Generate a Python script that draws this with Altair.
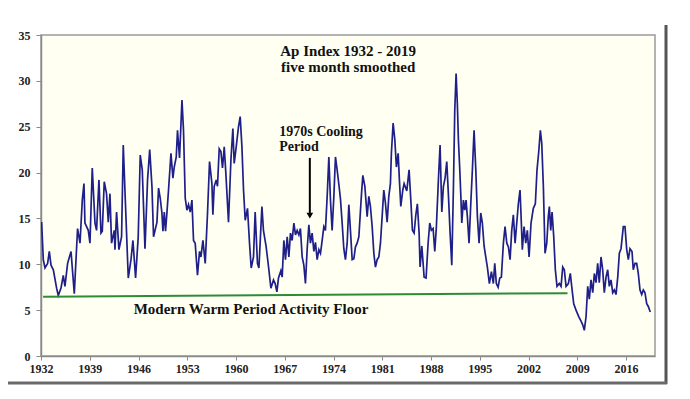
import altair as alt
import pandas as pd

years = [1932.09,1932.33,1932.57,1932.95,1933.19,1933.44,1933.77,1934.24,1934.48,1934.87,1935.20,1935.44,1935.82,1936.31,1936.78,1937.25,1937.60,1937.93,1938.17,1938.31,1938.79,1939.03,1939.36,1939.75,1939.98,1940.32,1940.61,1940.80,1941.08,1941.41,1941.66,1941.90,1942.13,1942.52,1942.62,1942.85,1943.19,1943.57,1943.81,1944.14,1944.53,1944.92,1945.20,1945.58,1945.96,1946.25,1946.54,1946.93,1947.30,1947.61,1947.93,1948.16,1948.65,1948.88,1949.12,1949.36,1949.51,1949.70,1949.88,1950.08,1950.31,1950.66,1950.94,1951.13,1951.42,1951.60,1951.89,1952.24,1952.46,1952.71,1952.95,1953.18,1953.43,1953.67,1953.90,1954.14,1954.47,1954.76,1954.96,1955.25,1955.58,1955.91,1956.20,1956.54,1956.68,1956.87,1957.16,1957.34,1957.59,1957.83,1958.06,1958.31,1958.55,1958.92,1959.27,1959.55,1959.74,1960.03,1960.36,1960.60,1960.85,1961.08,1961.32,1961.65,1961.94,1962.18,1962.51,1962.75,1963.08,1963.29,1963.72,1963.94,1964.33,1964.66,1965.01,1965.38,1965.62,1965.87,1966.10,1966.44,1966.63,1966.87,1967.10,1967.35,1967.59,1967.82,1968.06,1968.31,1968.54,1968.78,1969.03,1969.25,1969.50,1969.74,1969.97,1970.22,1970.46,1970.69,1970.93,1971.18,1971.41,1971.65,1971.90,1972.13,1972.37,1972.61,1972.84,1973.09,1973.33,1973.56,1973.80,1974.05,1974.28,1974.52,1974.77,1975.00,1975.24,1975.48,1975.71,1975.96,1976.20,1976.43,1976.68,1976.92,1977.15,1977.39,1977.64,1978.01,1978.21,1978.50,1978.83,1979.07,1979.30,1979.55,1979.79,1980.02,1980.26,1980.51,1980.74,1980.98,1981.22,1981.45,1981.70,1981.94,1982.17,1982.31,1982.56,1982.80,1983.03,1983.28,1983.46,1983.66,1983.95,1984.14,1984.52,1984.85,1985.10,1985.33,1985.57,1985.82,1986.04,1986.29,1986.43,1986.68,1987.01,1987.29,1987.58,1987.82,1988.05,1988.30,1988.54,1988.77,1989.06,1989.30,1989.55,1989.78,1990.02,1990.26,1990.49,1990.74,1990.98,1991.21,1991.41,1991.60,1991.78,1991.93,1992.13,1992.27,1992.42,1992.65,1992.85,1993.03,1993.22,1993.46,1993.71,1993.94,1994.18,1994.43,1994.66,1994.90,1995.14,1995.37,1995.62,1995.86,1996.09,1996.38,1996.67,1996.95,1997.15,1997.38,1997.63,1997.87,1998.10,1998.39,1998.63,1998.88,1999.11,1999.35,1999.59,1999.82,2000.07,2000.31,2000.54,2000.78,2000.97,2001.11,2001.36,2001.60,2001.83,2002.08,2002.36,2002.69,2002.98,2003.22,2003.47,2003.70,2003.90,2004.13,2004.37,2004.62,2004.84,2004.99,2005.19,2005.38,2005.62,2005.85,2006.09,2006.42,2006.67,2006.91,2007.14,2007.39,2007.72,2008.00,2008.20,2008.49,2008.82,2009.21,2009.54,2009.78,2010.01,2010.26,2010.50,2010.73,2010.97,2011.22,2011.45,2011.69,2011.93,2012.16,2012.41,2012.65,2012.88,2013.13,2013.37,2013.60,2013.84,2014.09,2014.32,2014.56,2014.81,2015.04,2015.28,2015.61,2015.85,2016.10,2016.33,2016.57,2016.86,2017.04,2017.29,2017.53,2017.76,2018.01,2018.25,2018.48,2018.72,2018.97,2019.20,2019.48]

ap_index = [14.6,10.5,9.6,10.1,11.4,9.9,9.4,7.4,6.6,7.4,8.8,7.6,10.1,11.4,6.8,13.9,12.3,17.0,18.8,14.5,13.7,12.3,20.5,14.5,13.7,19.2,13.4,13.6,19.0,17.7,14.6,17.7,12.3,13.7,11.6,15.7,11.6,13.0,23.0,16.3,8.5,10.5,12.6,8.5,13.0,21.9,20.3,11.7,19.2,22.5,18.5,13.0,14.6,18.3,17.2,15.6,13.6,15.7,13.6,15.6,18.1,22.1,19.4,20.6,21.7,24.6,21.6,27.9,24.6,17.2,15.9,16.5,15.7,17.0,12.6,12.3,8.8,11.4,10.8,12.6,10.1,15.6,21.2,18.8,15.4,18.5,19.2,18.5,22.6,22.3,20.5,22.8,19.8,14.6,21.4,24.8,21.0,22.8,25.0,26.1,22.8,18.1,14.8,16.1,12.3,9.6,10.8,15.7,10.1,9.6,16.3,13.7,11.9,9.8,7.4,8.3,7.9,7.0,8.5,9.3,8.6,12.6,10.5,13.0,10.8,13.4,12.6,14.5,13.2,13.7,13.2,13.9,10.8,9.9,7.9,11.7,14.3,12.3,13.4,11.4,12.4,10.5,11.6,11.2,12.6,14.1,13.7,17.4,21.7,17.0,13.7,17.4,21.7,20.3,18.7,17.1,14.5,11.7,10.5,12.3,16.5,13.7,10.5,10.6,11.9,12.3,13.0,17.6,19.7,18.5,15.2,17.4,16.3,14.1,11.2,9.7,10.5,10.8,12.3,15.2,18.1,16.7,14.6,17.4,18.8,22.1,25.4,23.6,20.6,22.1,19.2,16.3,18.1,18.8,18.0,20.3,17.0,13.7,13.4,15.4,16.6,13.4,9.7,12.0,8.6,8.5,12.3,14.5,13.7,13.9,11.4,14.1,19.2,23.0,15.7,18.5,19.4,21.2,17.7,13.4,9.9,18.1,26.8,30.8,27.5,23.6,20.3,17.7,14.5,17.0,15.9,17.0,15.2,12.3,16.6,20.3,24.6,20.3,15.2,12.3,15.6,14.5,12.0,10.8,9.7,7.9,9.2,7.9,10.1,7.9,7.5,8.5,8.6,12.3,14.1,12.3,11.9,10.5,13.7,15.4,12.3,14.5,16.6,18.1,14.5,11.6,14.1,12.3,13.7,10.8,14.5,16.1,16.6,20.3,22.3,24.6,23.2,18.5,11.2,12.3,15.2,16.3,13.7,15.7,13.0,9.4,7.6,7.9,7.6,9.7,9.4,7.6,7.9,9.0,7.6,5.7,5.0,4.3,3.8,3.4,2.8,4.3,7.6,6.2,8.3,6.9,9.0,8.0,10.1,8.0,10.8,9.4,6.9,8.6,9.4,7.6,8.3,6.9,7.2,6.7,8.6,11.2,11.7,14.1,14.1,11.6,10.5,11.7,11.4,9.4,10.1,10.1,9.0,7.2,6.7,7.2,6.9,5.7,5.4,4.8]

floor_years = [1932.3, 2007.6]
floor_values = [6.45, 6.85]

x_ticks = [1932, 1939, 1946, 1953, 1960, 1967, 1974, 1981, 1988, 1995, 2002, 2009, 2016]
y_ticks = [0, 5, 10, 15, 20, 25, 30, 35]

title_lines = ["Ap Index 1932 - 2019", "five month smoothed"]
title_x = [1976.1, 1976.1]
title_y = [33.3, 31.5]

cool_lines = ["1970s Cooling", "Period"]
cool_x = [1966.2, 1966.2]
cool_y = [24.45, 22.75]

arrow_x = [1970.6, 1970.6]
arrow_y = [21.6, 15.6]
arrow_tip = [15.3]

floor_label = "Modern Warm Period Activity Floor"
floor_label_x = [1945.3]
floor_label_y = [5.15]

SERIF = "Liberation Serif"

xs = alt.Scale(domain=[1932, 2020.16], nice=False, zero=False)
ys = alt.Scale(domain=[0, 35], nice=False)

df = pd.DataFrame({"year": years, "ap": ap_index})
line = alt.Chart(df).mark_line(color="#1f1f8a", strokeWidth=1.7, clip=True).encode(
    x=alt.X("year:Q", scale=xs,
            axis=alt.Axis(values=x_ticks, format="d", title=None, tickSize=4,
                          labelPadding=3, labelFlush=False)),
    y=alt.Y("ap:Q", scale=ys,
            axis=alt.Axis(values=y_ticks, title=None, tickSize=5, labelPadding=6)),
)

floor_df = pd.DataFrame({"year": floor_years, "ap": floor_values})
floor = alt.Chart(floor_df).mark_line(color="#2e8b3a", strokeWidth=2).encode(
    x=alt.X("year:Q", scale=xs), y=alt.Y("ap:Q", scale=ys))

title_df = pd.DataFrame({"x": title_x, "y": title_y, "t": title_lines})
title = alt.Chart(title_df).mark_text(font=SERIF, fontWeight="bold", fontSize=15,
                                      align="center", baseline="middle", color="#111").encode(
    x=alt.X("x:Q", scale=xs), y=alt.Y("y:Q", scale=ys), text="t:N")

cool_df = pd.DataFrame({"x": cool_x, "y": cool_y, "t": cool_lines})
cool = alt.Chart(cool_df).mark_text(font=SERIF, fontWeight="bold", fontSize=14,
                                    align="left", baseline="middle", color="#111").encode(
    x=alt.X("x:Q", scale=xs), y=alt.Y("y:Q", scale=ys), text="t:N")

arrow_df = pd.DataFrame({"x": arrow_x, "y": arrow_y})
arrow = alt.Chart(arrow_df).mark_line(color="#000", strokeWidth=2).encode(
    x=alt.X("x:Q", scale=xs), y=alt.Y("y:Q", scale=ys))
tip_df = pd.DataFrame({"x": arrow_x[:1], "y": arrow_tip})
tip = alt.Chart(tip_df).mark_point(shape="triangle-down", filled=True, color="#000",
                                   size=45, opacity=1).encode(
    x=alt.X("x:Q", scale=xs), y=alt.Y("y:Q", scale=ys))

fl_df = pd.DataFrame({"x": floor_label_x, "y": floor_label_y, "t": [floor_label]})
fl = alt.Chart(fl_df).mark_text(font=SERIF, fontWeight="bold", fontSize=15,
                                align="left", baseline="middle", color="#111").encode(
    x=alt.X("x:Q", scale=xs), y=alt.Y("y:Q", scale=ys), text="t:N")

# picture frame shadow (decoration)
frame_r = alt.Chart(pd.DataFrame({"a": [0]})).mark_rule(color="#555", strokeWidth=3).encode(
    x=alt.value(625), y=alt.value(-10), y2=alt.value(349))
frame_b = alt.Chart(pd.DataFrame({"a": [0]})).mark_rule(color="#6a6a6a", strokeWidth=3).encode(
    x=alt.value(-34), x2=alt.value(626), y=alt.value(348))

chart = alt.layer(line, floor, title, cool, arrow, tip, fl, frame_r, frame_b).properties(
    width=614, height=321,
    autosize=alt.AutoSizeParams(type="none"),
    padding={"left": 33, "top": 27, "right": 25, "bottom": 30},
).configure_view(
    fill="#fffff2", stroke="#9a9a9a", strokeWidth=1.5
).configure_axis(
    grid=False, domainColor="#8a8a8a", tickColor="#8a8a8a", domainWidth=1.5,
    labelFont=SERIF, labelFontWeight="bold", labelFontSize=12, labelColor="#222"
)

chart.save("out.html", embed_options={"renderer": "svg", "actions": False})
